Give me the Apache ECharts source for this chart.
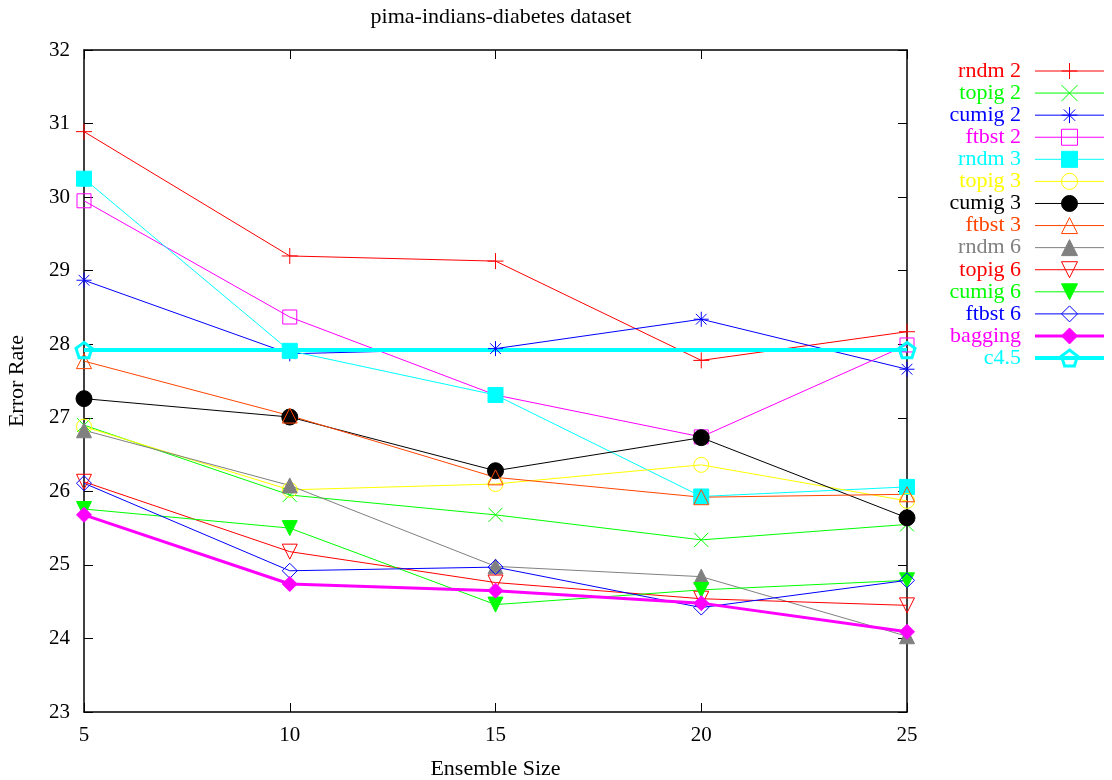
<!DOCTYPE html>
<html>
<head>
<meta charset="utf-8">
<script src="https://cdn.jsdelivr.net/npm/echarts@6/dist/echarts.min.js"></script>
<style>
html, body { margin: 0; padding: 0; background: #fff; }
#chart { width: 1112px; height: 780px; }
</style>
</head>
<body>
<div id="chart"></div>
<script>
// Error rate (%) per ensemble size
const ensembleSizes = [5, 10, 15, 20, 25];
const rndm2   = [30.89, 29.20, 29.13, 27.78, 28.17];
const topig2  = [26.90, 25.95, 25.68, 25.34, 25.55];
const cumig2  = [28.87, 27.87, 27.94, 28.34, 27.66];
const ftbst2  = [29.95, 28.37, 27.31, 26.74, 27.99];
const rndm3   = [30.25, 27.91, 27.31, 25.93, 26.06];
const topig3  = [26.88, 26.02, 26.10, 26.36, 25.87];
const cumig3  = [27.26, 27.01, 26.28, 26.73, 25.64];
const ftbst3  = [27.77, 27.03, 26.19, 25.92, 25.96];
const rndm6   = [26.83, 26.08, 24.98, 24.84, 24.03];
const topig6  = [26.13, 25.18, 24.76, 24.54, 24.45];
const cumig6  = [25.76, 25.50, 24.46, 24.66, 24.79];
const ftbst6  = [26.11, 24.92, 24.97, 24.42, 24.79];
const bagging = [25.68, 24.74, 24.65, 24.48, 24.09];
// single C4.5 baseline, drawn across the size range
const c45Sizes = [5, 25];
const c45      = [27.92, 27.92];

const seriesNames = ['rndm 2', 'topig 2', 'cumig 2', 'ftbst 2', 'rndm 3', 'topig 3', 'cumig 3',
                     'ftbst 3', 'rndm 6', 'topig 6', 'cumig 6', 'ftbst 6', 'bagging', 'c4.5'];
const seriesValues = [rndm2, topig2, cumig2, ftbst2, rndm3, topig3, cumig3,
                      ftbst3, rndm6, topig6, cumig6, ftbst6, bagging, c45];
const seriesX = [ensembleSizes, ensembleSizes, ensembleSizes, ensembleSizes, ensembleSizes,
                 ensembleSizes, ensembleSizes, ensembleSizes, ensembleSizes, ensembleSizes,
                 ensembleSizes, ensembleSizes, ensembleSizes, c45Sizes];

// point shapes in the classic gnuplot style
const PLUS = 'path://M0,7H14M7,0V14';
const CROSS = 'path://M0,0L14,14M14,0L0,14';
const STAR = 'path://M0,7H14M7,0V14M2,2L12,12M12,2L2,12';
const PENTAGON = 'path://M7,0L14,5.1L11.3,13.3H2.7L0,5.1Z';

const styles = [
  { color: '#ff0000', symbol: PLUS,       size: 16, filled: false },
  { color: '#00ff00', symbol: CROSS,      size: 14, filled: false },
  { color: '#0000ff', symbol: STAR,       size: 15, filled: false },
  { color: '#ff00ff', symbol: 'rect',     size: 14, filled: false },
  { color: '#00ffff', symbol: 'rect',     size: 15, filled: true },
  { color: '#ffff00', symbol: 'circle',   size: 15, filled: false },
  { color: '#000000', symbol: 'circle',   size: 16, filled: true },
  { color: '#ff4500', symbol: 'triangle', size: 15, filled: false },
  { color: '#808080', symbol: 'triangle', size: 15, filled: true },
  { color: '#ff0000', symbol: 'triangle', size: 15, filled: false, rotate: 180 },
  { color: '#00ff00', symbol: 'triangle', size: 15, filled: true, rotate: 180 },
  { color: '#0000ff', symbol: 'diamond',  size: 15, filled: false },
  { color: '#ff00ff', symbol: 'diamond',  size: 15, filled: true, width: 3 },
  { color: '#00ffff', symbol: PENTAGON,   size: 16, filled: false, width: 4, bw: 3 }
];

const FONT = 'Liberation Serif';

const series = seriesNames.map((name, i) => {
  const st = styles[i];
  return {
    name: name,
    type: 'line',
    data: seriesX[i].map((x, k) => [x, seriesValues[i][k]]),
    symbol: st.symbol,
    symbolSize: st.size,
    symbolRotate: st.rotate || 0,
    symbolKeepAspect: true,
    showAllSymbol: true,
    lineStyle: { color: st.color, width: st.width || 1 },
    itemStyle: {
      color: st.filled ? st.color : 'none',
      borderColor: st.color,
      borderWidth: st.bw || 1
    },
    emphasis: { disabled: true },
    silent: true
  };
});

const legendData = seriesNames.map((name, i) => ({
  name: name,
  textStyle: { color: styles[i].color },
  itemStyle: { borderWidth: styles[i].bw || 1 },
  lineStyle: { width: styles[i].width || 1 }
}));

const axisFont = { fontFamily: FONT, fontSize: 21, color: '#000' };
const nameFont = { fontFamily: FONT, fontSize: 22, color: '#000' };
const frameLine = { show: true, lineStyle: { color: '#000', width: 1.5 } };
const innerTick = { show: true, inside: true, length: 9, lineStyle: { color: '#000', width: 1 } };

const chart = echarts.init(document.getElementById('chart'), null, { renderer: 'canvas' });
chart.setOption({
  animation: false,
  backgroundColor: '#fff',
  title: {
    text: 'pima-indians-diabetes dataset',
    left: 496,
    top: 1,
    textAlign: 'center',
    textStyle: { fontFamily: FONT, fontSize: 22, fontWeight: 'normal', color: '#000' }
  },
  grid: { left: 84, right: 205, top: 50, bottom: 68, containLabel: false, outerBoundsMode: 'none' },
  legend: {
    orient: 'vertical',
    align: 'right',
    right: 6,
    top: 60,
    padding: 0,
    itemGap: 0.08,
    itemWidth: 69,
    itemHeight: 20,
    selectedMode: false,
    textStyle: { fontFamily: FONT, fontSize: 22, padding: [0, 9, 0, 0] },
    data: legendData
  },
  xAxis: [
    {
      type: 'value', min: 5, max: 25, interval: 5,
      name: 'Ensemble Size', nameLocation: 'middle', nameGap: 46,
      nameTextStyle: nameFont,
      axisLine: frameLine, axisTick: innerTick,
      axisLabel: Object.assign({ margin: 13 }, axisFont),
      splitLine: { show: false }
    },
    {
      type: 'value', min: 5, max: 25, interval: 5, position: 'top',
      axisLine: frameLine, axisTick: innerTick,
      axisLabel: { show: false }, splitLine: { show: false }
    }
  ],
  yAxis: [
    {
      type: 'value', min: 23, max: 32, interval: 1,
      name: 'Error Rate', nameLocation: 'middle', nameGap: 56,
      nameTextStyle: nameFont,
      axisLine: frameLine, axisTick: innerTick,
      axisLabel: Object.assign({ margin: 14 }, axisFont),
      splitLine: { show: false }
    },
    {
      type: 'value', min: 23, max: 32, interval: 1, position: 'right',
      axisLine: frameLine, axisTick: innerTick,
      axisLabel: { show: false }, splitLine: { show: false }
    }
  ],
  series: series
});
</script>
</body>
</html>
